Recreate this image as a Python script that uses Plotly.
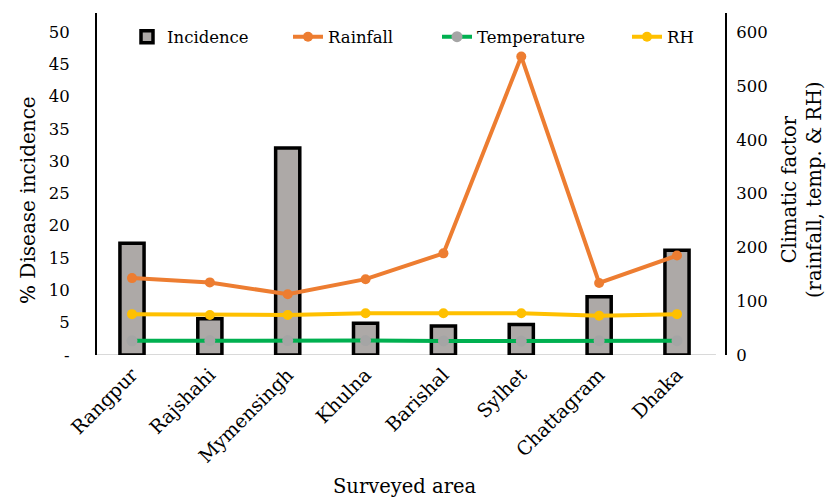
import plotly.graph_objects as go

# Surveyed districts
areas = ["Rangpur", "Rajshahi", "Mymensingh", "Khulna", "Barishal",
         "Sylhet", "Chattagram", "Dhaka"]

# % disease incidence per area (left axis)
incidence = [17.3, 5.6, 32.0, 4.9, 4.5, 4.7, 9.0, 16.2]

# Climatic factors (right axis)
rainfall = [143, 135, 113, 141, 189, 555, 134, 185]
temperature = [26.3, 26.9, 26.8, 26.8, 26.1, 25.9, 26.6, 26.7]
rh = [76, 74.5, 74.5, 77.5, 77.5, 77.5, 73, 76]

left_ticks = [0, 5, 10, 15, 20, 25, 30, 35, 40, 45, 50]
left_labels = ["-"] + [str(v) for v in left_ticks[1:]]
right_ticks = [0, 100, 200, 300, 400, 500, 600]

FONT = "DejaVu Serif"
W, H = 829, 497
L, R, T, B = 97, 104, 13, 142

fig = go.Figure()

fig.add_trace(go.Bar(
    x=areas, y=incidence, name="Incidence", width=0.31,
    marker=dict(color="#ADA9A7", line=dict(color="black", width=3.5)),
    legend="legend", showlegend=True,
))
fig.add_trace(go.Scatter(
    x=areas, y=rainfall, name="Rainfall", yaxis="y2", mode="lines+markers",
    line=dict(color="#ED7D31", width=4), marker=dict(color="#ED7D31", size=10),
    legend="legend2", showlegend=True,
))
fig.add_trace(go.Scatter(
    x=areas, y=temperature, name="Temperature", yaxis="y2", mode="lines+markers",
    line=dict(color="#00B050", width=4), marker=dict(color="#A5A5A5", size=11),
    legend="legend3", showlegend=True,
))
fig.add_trace(go.Scatter(
    x=areas, y=rh, name="RH", yaxis="y2", mode="lines+markers",
    line=dict(color="#FFC000", width=4), marker=dict(color="#FFC000", size=10),
    legend="legend4", showlegend=True,
))

pw = W - L - R
ph = H - T - B


def px_x(p):
    return (p - L) / pw


def px_y(p):
    return (H - B - p) / ph


leg_common = dict(orientation="h", bgcolor="rgba(0,0,0,0)", xanchor="left",
                  yanchor="middle", y=px_y(37), visible=True,
                  font=dict(family=FONT, size=16.5, color="black"))

fig.update_layout(
    width=W, height=H,
    showlegend=True,
    margin=dict(l=L, r=R, t=T, b=B, pad=0),
    paper_bgcolor="white", plot_bgcolor="white",
    font=dict(family=FONT, size=16.5, color="black"),
    legend=dict(x=px_x(127), **leg_common),
    legend2=dict(x=px_x(288), **leg_common),
    legend3=dict(x=px_x(437), **leg_common),
    legend4=dict(x=px_x(627), **leg_common),
    xaxis=dict(
        range=[-0.4495, 7.6165], showgrid=False, zeroline=False, showline=False,
        tickangle=-45, ticks="", ticklabelstandoff=4,
        tickfont=dict(family=FONT, size=19),
    ),
    yaxis=dict(
        range=[0, 52.9], tickvals=left_ticks, ticktext=left_labels,
        showgrid=False, zeroline=False, showline=True, linecolor="black",
        linewidth=2, ticks="", ticklabelstandoff=22,
        tickfont=dict(family=FONT, size=16.5),
    ),
    yaxis2=dict(
        range=[0, 636], tickvals=right_ticks, overlaying="y", side="right",
        showgrid=False, zeroline=False, showline=True, linecolor="black",
        linewidth=2, ticks="", ticklabelstandoff=6,
        tickfont=dict(family=FONT, size=16.5),
    ),
    shapes=[dict(type="line", xref="x", yref="y", x0=-0.5, x1=7.5, y0=0, y1=0,
                 line=dict(color="#D9D9D9", width=2), layer="below")],
    annotations=[
        dict(text="% Disease incidence", textangle=-90, xref="paper", yref="paper",
             x=px_x(28), y=px_y(200), showarrow=False, xanchor="center",
             yanchor="middle", font=dict(family=FONT, size=20)),
        dict(text="Climatic factor<br>(rainfall, temp. & RH)", textangle=-90,
             xref="paper", yref="paper", x=px_x(802), y=px_y(190), showarrow=False,
             xanchor="center", yanchor="middle", font=dict(family=FONT, size=19.5)),
        dict(text="Surveyed area", xref="paper", yref="paper", x=px_x(405),
             y=px_y(487), showarrow=False, xanchor="center", yanchor="middle",
             font=dict(family=FONT, size=19.5)),
    ],
)

fig.write_html("out.html")
